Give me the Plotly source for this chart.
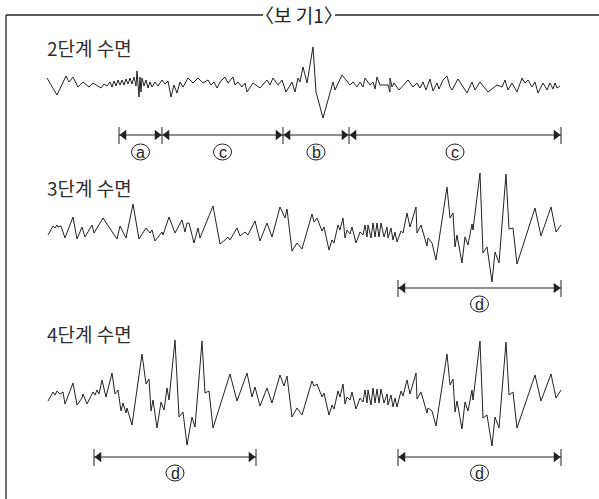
import plotly.graph_objects as go

# ---------------- data (time units along x, signal read on a downward axis) ----------------
stage_labels = ["2단계 수면", "3단계 수면", "4단계 수면"]
title_text = "〈보 기1〉"

stage2_t = [47, 57, 66, 69, 73, 78, 83, 89, 93, 101, 104, 107, 110, 112, 114, 116, 118, 120, 122, 124,
            126, 128, 130, 132, 134, 136, 137, 139, 140, 141, 142, 144, 146, 148, 150, 152, 155, 158, 162,
            165, 168, 171, 174, 177, 180, 183, 188, 193, 198, 203, 208, 211, 214, 217, 220, 225, 228, 233,
            235, 238, 242, 245, 247, 253, 260, 267, 270, 273, 278, 282, 286, 292, 295, 298, 300, 303, 307,
            313, 316, 323, 333, 335, 342, 347, 350, 353, 357, 360, 363, 365, 370, 373, 375, 377, 380, 388,
            390, 390, 392, 394, 399, 408, 413, 417, 420, 423, 426, 430, 433, 437, 439, 443, 447, 450, 452,
            458, 467, 472, 475, 480, 488, 497, 502, 505, 508, 512, 517, 522, 525, 528, 532, 535, 538, 543,
            547, 550, 553, 555, 557, 560]
stage2_v = [78, 95, 76, 82, 77, 87, 82, 87, 83, 88, 84, 86, 82, 87, 81, 86, 80, 85, 80, 85,
            79, 84, 78, 84, 77, 86, 71, 97, 77, 92, 78, 86, 80, 88, 82, 87, 82, 86, 80,
            84, 81, 97, 85, 93, 82, 87, 78, 83, 78, 83, 80, 85, 82, 88, 82, 77, 83, 77,
            85, 82, 87, 83, 92, 83, 88, 80, 85, 78, 85, 80, 92, 82, 92, 78, 82, 67, 83,
            47, 92, 118, 82, 90, 75, 82, 85, 82, 87, 82, 87, 78, 85, 82, 89, 77, 85, 85,
            92, 78, 87, 83, 90, 80, 87, 83, 88, 82, 90, 79, 91, 83, 89, 80, 76, 87, 90,
            79, 93, 82, 90, 82, 92, 85, 87, 80, 90, 83, 92, 78, 83, 80, 87, 82, 93, 83,
            90, 83, 89, 83, 88, 86]

stage3_t = [48, 53, 55, 57, 58, 61, 65, 73, 77, 82, 85, 92, 94, 103, 117, 120, 126, 133, 139, 146,
            150, 152, 155, 162, 163, 169, 175, 182, 185, 187, 189, 194, 198, 200, 213, 220, 225, 228, 230,
            237, 240, 245, 248, 255, 260, 267, 272, 280, 285, 287, 292, 297, 302, 312, 314, 317, 322, 324,
            329, 332, 334, 338, 340, 343, 345, 347, 350, 352, 356, 360, 363, 365, 367, 368, 371, 373, 375,
            377, 379, 381, 384, 387, 388, 391, 393, 395, 397, 401, 403, 407, 410, 416, 417, 421, 427, 428,
            432, 436, 447, 450, 453, 455, 457, 462, 465, 468, 472, 473, 480, 483, 487, 492, 495, 499, 506,
            509, 513, 517, 535, 541, 551, 556, 561]
stage3_v = [235, 226, 228, 225, 227, 226, 238, 217, 239, 227, 237, 225, 233, 218, 239, 226, 238, 204, 239, 228,
            233, 230, 241, 232, 235, 217, 233, 220, 232, 223, 223, 243, 228, 238, 206, 244, 240, 237, 240,
            228, 236, 232, 235, 221, 241, 223, 237, 207, 218, 209, 251, 243, 249, 214, 222, 218, 231, 227,
            250, 240, 243, 225, 230, 218, 238, 230, 234, 227, 243, 232, 235, 225, 237, 225, 238, 223, 237,
            223, 237, 223, 237, 227, 238, 228, 240, 232, 242, 231, 233, 213, 227, 207, 233, 225, 246, 238,
            243, 260, 187, 218, 213, 247, 235, 263, 237, 245, 224, 230, 173, 253, 247, 282, 252, 263, 174,
            229, 228, 264, 208, 236, 207, 232, 225]

stage4_t = [48, 53, 55, 57, 60, 63, 65, 73, 77, 82, 83, 87, 93, 95, 97, 99, 102, 106, 112, 115,
            118, 121, 123, 126, 127, 132, 142, 146, 149, 151, 153, 157, 161, 164, 167, 169, 175, 179, 183,
            187, 192, 195, 202, 205, 209, 213, 230, 237, 247, 252, 255, 260, 267, 272, 280, 284, 287, 292,
            297, 302, 312, 314, 317, 322, 324, 329, 332, 334, 338, 340, 343, 345, 347, 350, 352, 356, 360,
            363, 365, 367, 368, 371, 373, 375, 377, 379, 381, 384, 387, 388, 391, 393, 395, 397, 401, 403,
            407, 410, 416, 417, 421, 427, 428, 432, 436, 447, 450, 453, 455, 457, 462, 465, 468, 472, 473,
            480, 483, 487, 492, 495, 499, 506, 509, 513, 517, 535, 541, 551, 556, 561]
stage4_v = [401, 392, 395, 391, 394, 392, 404, 383, 405, 398, 394, 404, 392, 395, 390, 394, 380, 397, 373, 394,
            390, 411, 403, 413, 408, 425, 354, 384, 379, 411, 400, 428, 402, 410, 388, 400, 340, 417, 412,
            445, 417, 427, 341, 393, 391, 428, 374, 401, 373, 397, 387, 406, 388, 403, 375, 386, 376, 417,
            408, 415, 381, 386, 384, 397, 393, 415, 405, 409, 391, 397, 384, 404, 397, 400, 392, 409, 398,
            402, 390, 403, 390, 405, 388, 403, 389, 403, 389, 403, 394, 405, 395, 407, 398, 407, 391, 396,
            380, 394, 373, 399, 392, 413, 408, 411, 426, 354, 385, 379, 412, 401, 429, 402, 411, 390, 400,
            341, 418, 415, 446, 417, 428, 342, 395, 392, 428, 375, 401, 374, 398, 390]

# interval markers: boundaries and labels for each stage
stage2_bounds = [119, 162, 283, 349, 561]
stage2_marks = ["a", "c", "b", "c"]
stage3_bounds = [398, 561]
stage3_marks = ["d"]
stage4a_bounds = [94, 256]
stage4b_bounds = [398, 561]
stage4_marks = ["d"]

# ---------------- figure ----------------
INK = "#222222"
TEXT = "#2e2e2e"
FONT = "Noto Sans CJK KR"
W, H = 599, 499

fig = go.Figure()
for t, v in [(stage2_t, stage2_v), (stage3_t, stage3_v), (stage4_t, stage4_v)]:
    fig.add_trace(go.Scatter(x=t, y=v, mode="lines", line=dict(color=INK, width=1.0),
                             hoverinfo="skip", showlegend=False))

annotations = []
shapes = []
seg_x, seg_y = [], []
tri_l_x, tri_l_y, tri_r_x, tri_r_y = [], [], [], []
HEAD = 9


def add_intervals(bounds, marks, y_line, y_label):
    for b in bounds:
        seg_x.extend([b, b, None])
        seg_y.extend([y_line - 8, y_line + 9, None])
    seg_x.extend([bounds[0], bounds[-1], None])
    seg_y.extend([y_line, y_line, None])
    for i, m in enumerate(marks):
        a, b = bounds[i], bounds[i + 1]
        mid = (a + b) / 2
        tri_l_x.append(a + HEAD / 2 + 0.5)
        tri_l_y.append(y_line)
        tri_r_x.append(b - HEAD / 2 - 0.5)
        tri_r_y.append(y_line)
        shapes.append(dict(type="circle", xref="x", yref="y", x0=mid - 9, x1=mid + 9,
                           y0=y_label - 8, y1=y_label + 8, line=dict(color=INK, width=1)))
        annotations.append(dict(x=mid, y=y_label + 0.5, xref="x", yref="y", text=m, showarrow=False,
                                font=dict(family="Liberation Sans", size=16, color=INK)))


add_intervals(stage2_bounds, stage2_marks, 135, 152)
add_intervals(stage3_bounds, stage3_marks, 288, 304)
add_intervals(stage4a_bounds, stage4_marks, 457, 473)
add_intervals(stage4b_bounds, stage4_marks, 457, 473)

fig.add_trace(go.Scatter(x=seg_x, y=seg_y, mode="lines", line=dict(color=INK, width=1),
                         hoverinfo="skip", showlegend=False))
fig.add_trace(go.Scatter(x=tri_l_x, y=tri_l_y, mode="markers",
                         marker=dict(symbol="triangle-left", size=HEAD, color=INK, line=dict(width=0)),
                         hoverinfo="skip", showlegend=False))
fig.add_trace(go.Scatter(x=tri_r_x, y=tri_r_y, mode="markers",
                         marker=dict(symbol="triangle-right", size=HEAD, color=INK, line=dict(width=0)),
                         hoverinfo="skip", showlegend=False))

for lab, yy in zip(stage_labels, [47, 187, 333]):
    annotations.append(dict(x=45, y=yy, xref="x", yref="y", xanchor="left", yanchor="middle",
                            text=lab, showarrow=False, font=dict(family=FONT, size=19, color=TEXT)))

annotations.append(dict(x=299, y=14, xref="x", yref="y", text=title_text, showarrow=False,
                        font=dict(family=FONT, size=19, color=INK)))

shapes += [
    dict(type="line", x0=6, x1=263, y0=15, y1=15, xref="x", yref="y", line=dict(color=INK, width=1.3)),
    dict(type="line", x0=335, x1=W, y0=15, y1=15, xref="x", yref="y", line=dict(color=INK, width=1.3)),
    dict(type="line", x0=6, x1=6, y0=15, y1=H, xref="x", yref="y", line=dict(color=INK, width=1.3)),
]

fig.update_layout(
    width=W, height=H, margin=dict(l=0, r=0, t=0, b=0),
    paper_bgcolor="white", plot_bgcolor="white",
    xaxis=dict(range=[0, W], visible=False, fixedrange=True),
    yaxis=dict(range=[H, 0], visible=False, fixedrange=True),
    annotations=annotations, shapes=shapes, showlegend=False,
)

fig.write_html("out.html", config={"displayModeBar": False},
               post_script="document.body.style.margin='0';document.body.style.overflow='hidden';")
